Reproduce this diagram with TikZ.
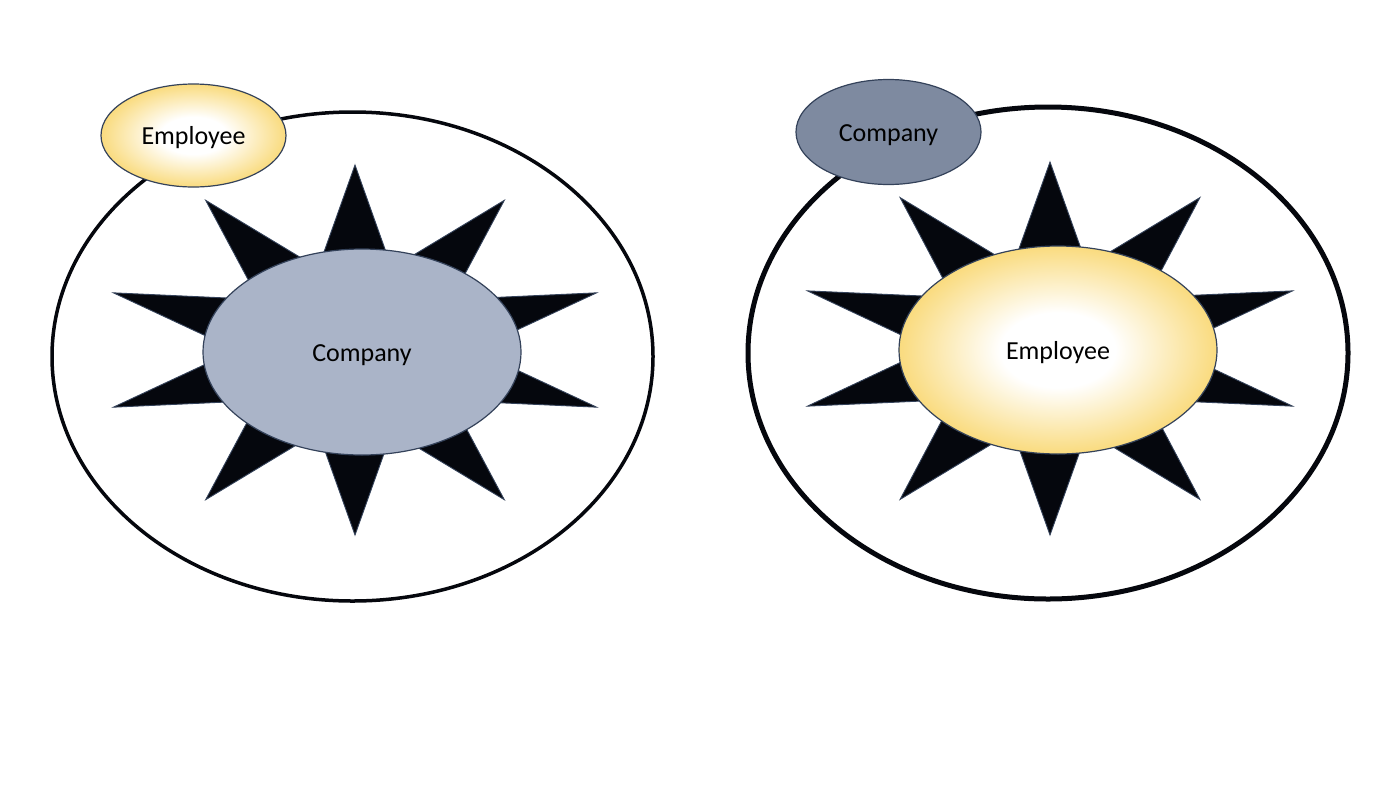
\documentclass[tikz,border=0pt]{standalone}
\usepackage{fontspec}
\setmainfont{Carlito}
\usetikzlibrary{shapes.geometric}
\definecolor{ringblack}{HTML}{05070D}
\definecolor{edgeslate}{HTML}{34425A}
\definecolor{companylight}{HTML}{AAB4C8}
\definecolor{companydark}{HTML}{7E8AA0}
\definecolor{empyellow}{HTML}{F8D25E}
\pgfdeclareradialshading{empglow}{\pgfpoint{0bp}{0bp}}{%
  color(0bp)=(white); color(9bp)=(white); color(18bp)=(empyellow!45!white);
  color(29bp)=(empyellow); color(50bp)=(empyellow)}
\tikzset{
  ring/.style={draw=ringblack, fill=white},
  sunray/.style={fill=ringblack, draw=edgeslate, line width=0.9pt, line join=miter},
  bubble/.style={ellipse, draw=edgeslate, line width=1.2pt, inner sep=0pt,
    font=\fontsize{26}{30}\selectfont, text=black, text height=21pt, text depth=3pt},
  companyfill/.style={bubble, fill=#1},
  employeefill/.style={bubble, shading=empglow},
}
\begin{document}
\begin{tikzpicture}[x=1pt, y=-1pt]
\useasboundingbox (0,0) rectangle (1400,788);

% left panel: the company at the centre
\draw[ring, line width=3.5pt] (352.5,356.5) ellipse [x radius=300.5, y radius=244.5];
\begin{scope}[shift={(355,350)}]
  \draw[sunray] (90:254 and 185)
    \foreach \i in {0,...,9}{ -- ({108+36*\i}:119 and 86) -- ({126+36*\i}:254 and 185) } -- cycle;
\end{scope}
\node[companyfill=companylight, minimum width=318pt, minimum height=206pt] (compL) at (362,352) {Company};
\node[employeefill, minimum width=185pt, minimum height=103pt] (empL) at (193.5,135.5) {Employee};

% right panel: the employee at the centre
\draw[ring, line width=5pt] (1048,353) ellipse [x radius=300, y radius=246];
\begin{scope}[shift={(1050,348.5)}]
  \draw[sunray] (90:255 and 186.5)
    \foreach \i in {0,...,9}{ -- ({108+36*\i}:120 and 87) -- ({126+36*\i}:255 and 186.5) } -- cycle;
\end{scope}
\node[employeefill, minimum width=318pt, minimum height=208pt] (empR) at (1058,350) {Employee};
\node[companyfill=companydark, minimum width=185pt, minimum height=105pt] (compR) at (888.5,132) {Company};
\end{tikzpicture}
\end{document}
